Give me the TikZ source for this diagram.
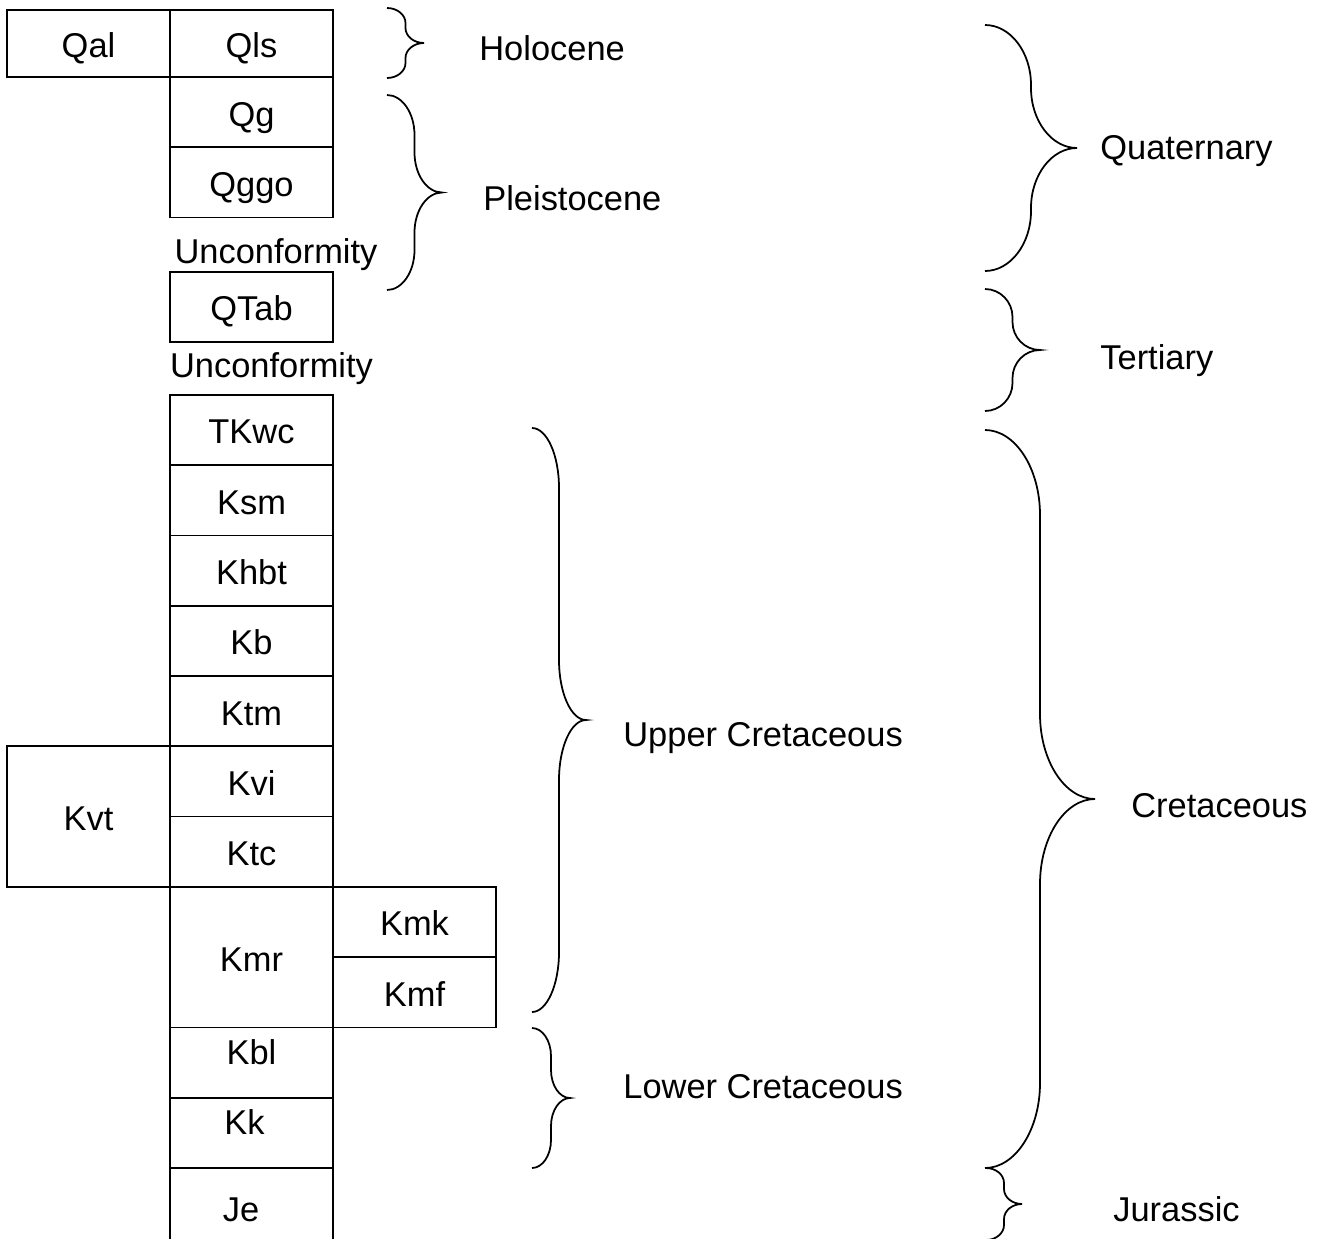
\documentclass[tikz,border=0pt]{standalone}
\usepackage{fontspec}
\setmainfont{Liberation Sans}
\usetikzlibrary{positioning}

% curly brace: x0, top, bottom, width, curve radius
\newcommand{\agebrace}[5]{%
  \pgfmathsetmacro\bxv{#1+#4/2}
  \pgfmathsetmacro\bxa{#1+0.55*#4/2}
  \pgfmathsetmacro\bxb{#1+#4-0.55*#4/2}
  \pgfmathsetmacro\bxt{#1+#4}
  \pgfmathsetmacro\bym{(#2+#3)/2}
  \draw[bline] (#1,#2) .. controls (\bxa,#2) and (\bxv,{#2+0.45*#5}) .. (\bxv,{#2+#5})
    -- (\bxv,{\bym-#5}) .. controls (\bxv,{\bym-0.45*#5}) and (\bxb,\bym) .. (\bxt,\bym)
    .. controls (\bxb,\bym) and (\bxv,{\bym+0.45*#5}) .. (\bxv,{\bym+#5})
    -- (\bxv,{#3-#5}) .. controls (\bxv,{#3-0.45*#5}) and (\bxa,#3) .. (#1,#3);
}

\begin{document}
\begin{tikzpicture}
[x=0.02cm, y=-0.02cm,
every node/.style={font=\fontsize{19.6}{23.5}\selectfont, text height=19pt, text depth=3.1pt},
unit/.style={
  draw, line width=1pt, minimum width=3.26cm, minimum height=1.406cm,
  inner sep=0pt, outer sep=0pt
  },
bline/.style={line width=1pt},
age/.style={anchor=west, inner sep=0pt}
]
\path[use as bounding box, clip] (0,0) rectangle (1325,1238);

% Quaternary units
\node[unit, minimum height=1.34cm] (qls) at (251.5,43.5) {Qls};
\node[unit, minimum height=1.34cm, left=0pt of qls] (qal) {Qal};
\node[unit, below=0pt of qls] (qg) {Qg};
\node[unit, below=0pt of qg] (qggo) {Qggo};
\node (unc1) at (276,250) {Unconformity};
\node[unit] (qtab) at (251.5,307) {QTab};
\node (unc2) at (271.5,364) {Unconformity};

% Cretaceous column
\node[unit] (tkwc) at (251.5,430) {TKwc};
\node[unit, below=0pt of tkwc] (ksm) {Ksm};
\node[unit, below=0pt of ksm] (khbt) {Khbt};
\node[unit, below=0pt of khbt] (kb) {Kb};
\node[unit, below=0pt of kb] (ktm) {Ktm};
\node[unit, below=0pt of ktm] (kvi) {Kvi};
\node[unit, below=0pt of kvi] (ktc) {Ktc};
\node[unit, minimum height=2.812cm, anchor=north east] (kvt) at (kvi.north west) {Kvt};
\node[unit, minimum height=2.812cm, below=0pt of ktc] (kmr) {Kmr};
\node[unit, anchor=north west] (kmk) at (kmr.north east) {Kmk};
\node[unit, below=0pt of kmk] (kmf) {Kmf};
\node[unit, below=0pt of kmr, label={[yshift=0.24cm]center:Kbl}] (kbl) {};
\node[unit, below=0pt of kbl, label={[xshift=-0.14cm, yshift=0.24cm]center:Kk}] (kk) {};
\node[unit, below=0pt of kk, minimum height=1.8cm] (je) {};
\node (jel) at (241,1208) {Je};

% braces
\agebrace{387}{8}{78}{37}{15}
\agebrace{387}{95}{290}{55}{40}
\agebrace{985}{25}{271}{92}{60}
\agebrace{985}{289}{411}{55}{28}
\agebrace{532}{428}{1012}{54}{60}
\agebrace{532}{1028}{1168}{38}{28}
\agebrace{985}{430}{1168}{110}{85}
\agebrace{986}{1168}{1240}{36}{15}

% ages
\node[age] (holo) at (479,47) {Holocene};
\node[age] (pleis) at (483,197) {Pleistocene};
\node[age] (quat) at (1100,146) {Quaternary};
\node[age] (tert) at (1100,356) {Tertiary};
\node[age] (ucret) at (623,733) {Upper Cretaceous};
\node[age] (lcret) at (623,1085) {Lower Cretaceous};
\node[age] (cret) at (1131,804) {Cretaceous};
\node[age] (jur) at (1113,1208) {Jurassic};

\end{tikzpicture}
\end{document}
